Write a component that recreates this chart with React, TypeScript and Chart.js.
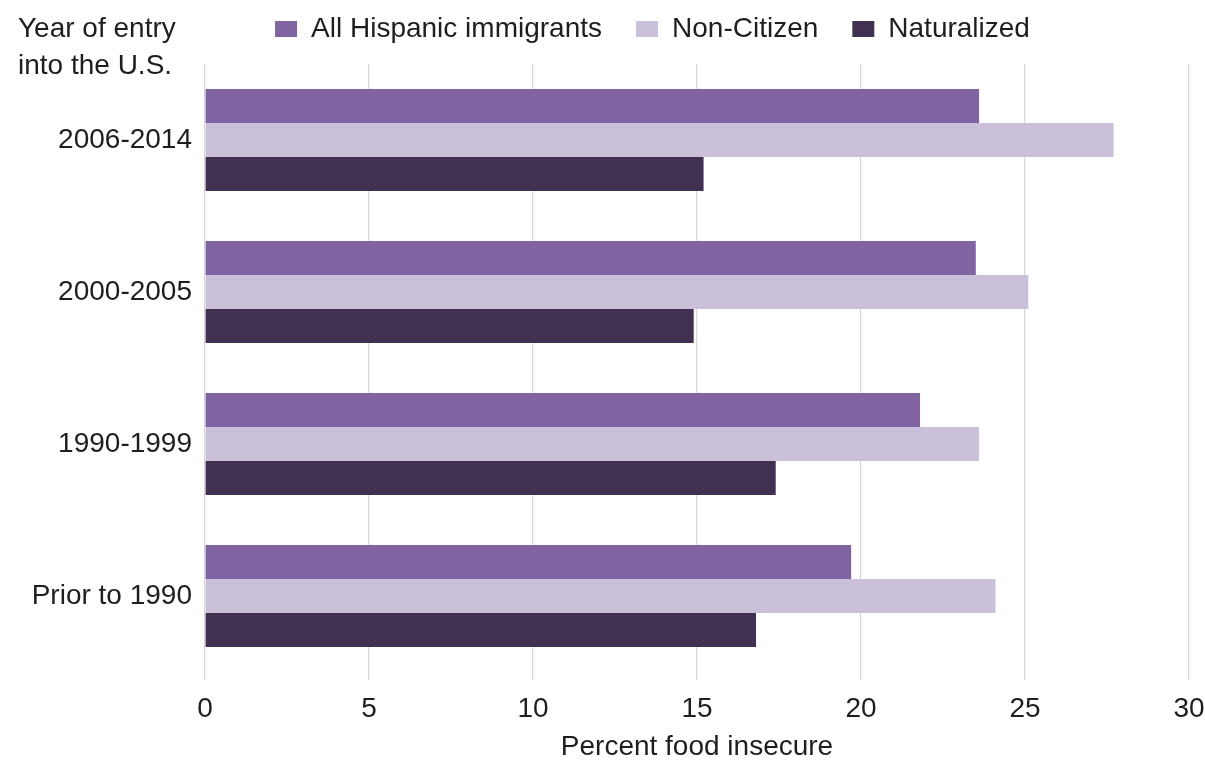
import React, { useEffect, useRef } from "react";
import { Chart, registerables } from "chart.js";

Chart.register(...registerables);

// Food insecurity among Hispanic immigrants by year of entry
const entryPeriods = ["2006-2014", "2000-2005", "1990-1999", "Prior to 1990"];
const allHispanic = [23.6, 23.5, 21.8, 19.7];
const nonCitizen = [27.7, 25.1, 23.6, 24.1];
const naturalized = [15.2, 14.9, 17.4, 16.8];
const seriesNames = ["All Hispanic immigrants", "Non-Citizen", "Naturalized"];
const xTickValues = [0, 5, 10, 15, 20, 25, 30];
const cornerTitleLines = ["Year of entry", "into the U.S."];
const xAxisTitle = "Percent food insecure";

const FONT = "'Liberation Sans', Arial, Helvetica, sans-serif";
const TEXT = "#1e1e1e";
const COLORS = ["#8064A2", "#CBC0DA", "#403152"];
const GRID = "#d6d6d6";

// Draws the two-line category axis caption in the top-left corner
const cornerTitle = {
  id: "cornerTitle",
  afterDraw(chart: any) {
    const ctx = chart.ctx;
    ctx.save();
    ctx.font = `28px ${FONT}`;
    ctx.fillStyle = TEXT;
    ctx.textAlign = "left";
    ctx.textBaseline = "middle";
    cornerTitleLines.forEach((line, i) => ctx.fillText(line, 18, 29 + i * 37));
    ctx.restore();
  },
};

// Places the legend row over the plot area, close to the top edge
const legendShift = {
  id: "legendShift",
  afterLayout(chart: any) {
    const lg = chart.legend;
    if (lg) {
      lg.left += 50;
      lg.right += 50;
      lg.top -= 19;
      lg.bottom -= 19;
    }
  },
};

export default function App() {
  const canvasRef = useRef<HTMLCanvasElement | null>(null);

  useEffect(() => {
    if (!canvasRef.current) return;
    const chart = new Chart(canvasRef.current, {
      type: "bar",
      data: {
        labels: entryPeriods,
        datasets: [allHispanic, nonCitizen, naturalized].map((values, i) => ({
          label: seriesNames[i],
          data: values,
          backgroundColor: COLORS[i],
          borderWidth: 0,
          barPercentage: 1,
          categoryPercentage: 0.67,
        })),
      },
      options: {
        indexAxis: "y",
        animation: false,
        responsive: false,
        maintainAspectRatio: false,
        layout: { padding: { top: 0, right: 0, bottom: 0, left: 0 } },
        plugins: {
          tooltip: { enabled: false },
          legend: {
            position: "top",
            align: "center",
            maxHeight: 64,
            labels: {
              font: { family: FONT, size: 28 },
              color: TEXT,
              boxWidth: 22,
              boxHeight: 16,
              padding: 34,
            },
          },
        },
        scales: {
          x: {
            min: 0,
            max: 30,
            afterBuildTicks(scale: any) {
              scale.ticks = xTickValues.map((v) => ({ value: v }));
            },
            afterFit(scale: any) {
              scale.height = 91;
              scale.paddingRight = 16;
            },
            grid: {
              color: GRID,
              lineWidth: 1.2,
              drawTicks: true,
              tickLength: 8,
              tickColor: GRID,
            },
            border: { display: false },
            ticks: {
              font: { family: FONT, size: 28 },
              color: TEXT,
              padding: 12,
            },
            title: {
              display: true,
              text: xAxisTitle,
              font: { family: FONT, size: 28 },
              color: TEXT,
              padding: { top: 0, bottom: -1 },
            },
          },
          y: {
            grid: { display: false, drawTicks: false },
            border: { display: false },
            ticks: {
              font: { family: FONT, size: 28 },
              color: TEXT,
              padding: 13,
            },
            afterFit(scale: any) {
              scale.width = 205;
            },
          },
        },
      },
      plugins: [cornerTitle, legendShift],
    } as any);
    return () => chart.destroy();
  }, []);

  return (
    <div style={{ position: "fixed", left: 0, top: 0, width: 1205, height: 763, background: "#fff" }}>
      <canvas ref={canvasRef} width={1205} height={763} />
    </div>
  );
}
